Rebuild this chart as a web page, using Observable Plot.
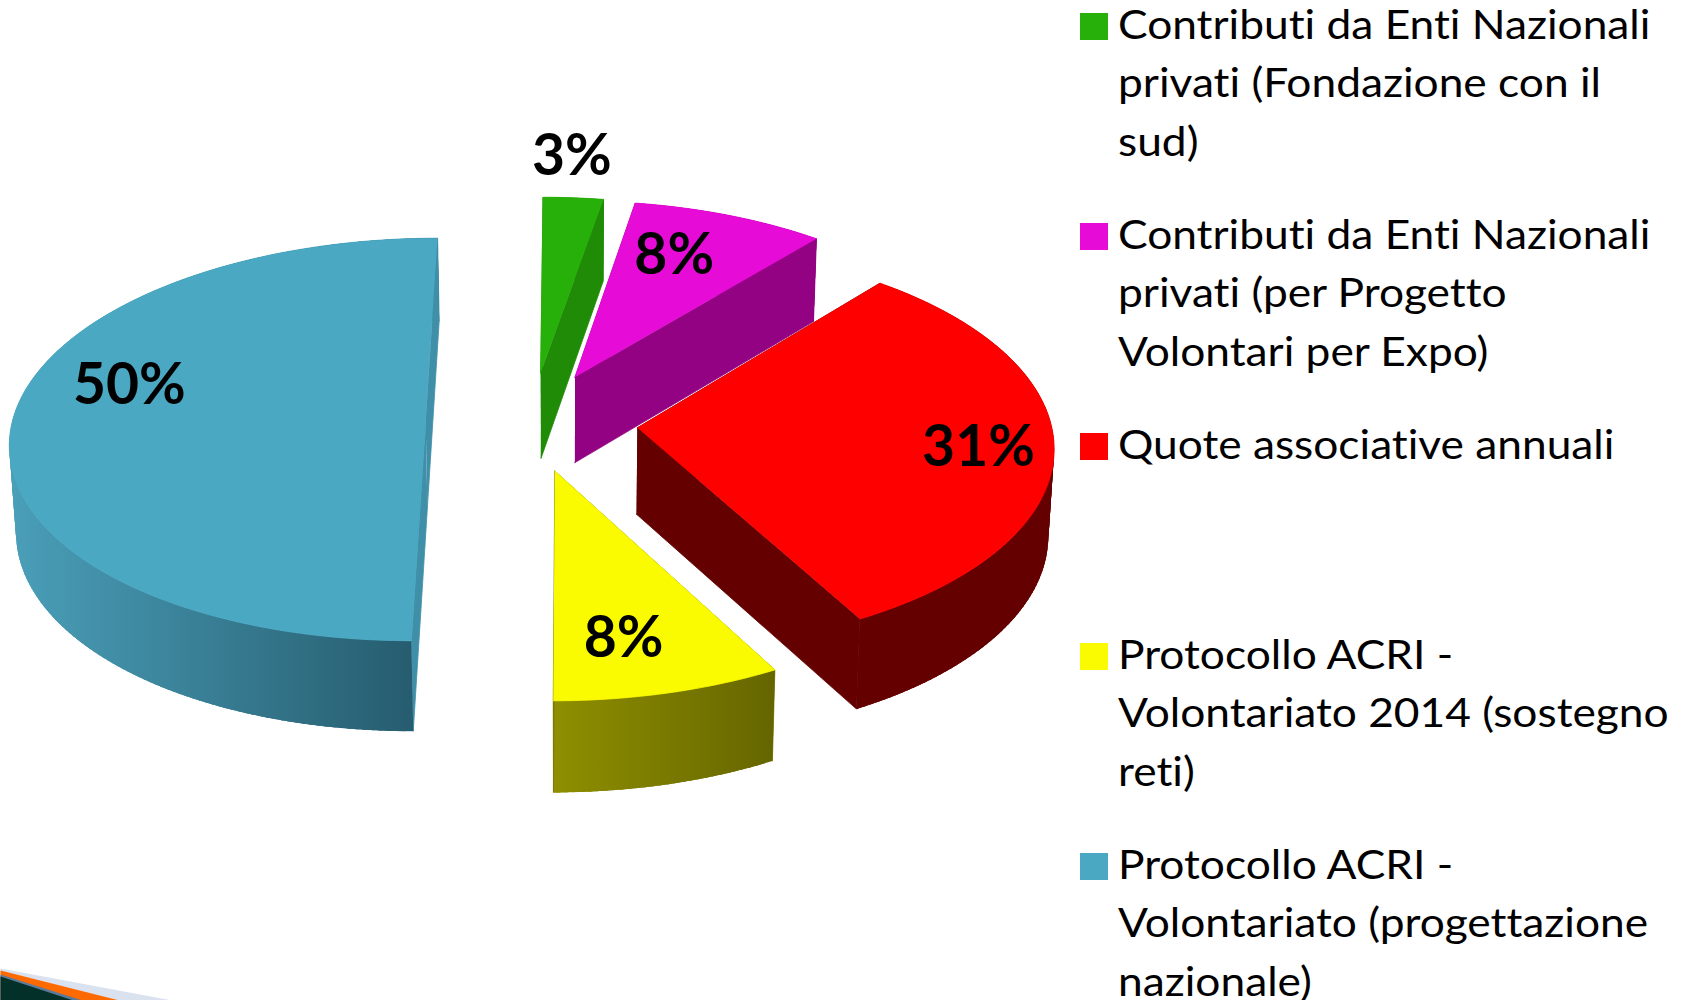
<!DOCTYPE html>
<html><head><meta charset="utf-8">
<script src="https://cdn.jsdelivr.net/npm/d3@7"></script>
<script src="https://cdn.jsdelivr.net/npm/@observablehq/plot@0.6"></script>
<style>html,body{margin:0;padding:0;background:#fff;overflow:hidden}svg{display:block}text{font-variant-ligatures:none}</style>
</head><body>
<script>
// Data
const categories = [
  "Contributi da Enti Nazionali privati (Fondazione con il sud)",
  "Contributi da Enti Nazionali privati (per Progetto Volontari per Expo)",
  "Quote associative annuali",
  "Protocollo ACRI - Volontariato 2014 (sostegno reti)",
  "Protocollo ACRI - Volontariato (progettazione nazionale)"
];
const shares = [2.6, 8.4, 31, 8, 50];
const legendLines = [
  ["Contributi da Enti Nazionali", "privati (Fondazione con il", "sud)"],
  ["Contributi da Enti Nazionali", "privati (per Progetto", "Volontari per Expo)"],
  ["Quote associative annuali"],
  ["Protocollo ACRI -", "Volontariato 2014 (sostegno", "reti)"],
  ["Protocollo ACRI -", "Volontariato (progettazione", "nazionale)"]
];
const topColors = ["#28b00a", "#e60bd7", "#ff0000", "#fafa00", "#4aa8c3"];
const faceColors = ["#1f8b06", "#930283", "#640000", "#7a7a00", "#408fa8"];
const wallFills = ["#1f8b06", "#930283", "#640000", "url(#wallYellow)", "url(#wallBlue)"];

// Exploded 3D pie camera (units: reference at 1568 wide)
const S = 1692 / 1568;
const cx = 528, cy = 390, a = 383, b = 185, k = 0.09, H = 80, shrink = 0.988;
const explode = [[-28, 46], [4.5, 41.8], [62, -6], [-14, -45], [-134, 0]];
const labelAt = [[3.5, 1.27], [20.9, 0.73], [96.2, 0.82], [168.2, 0.755], [284.6, 0.76]];

function topPt(i, deg, r = 1) {
  const t = deg * Math.PI / 180, [ex, ey] = explode[i];
  const X = ex + a * r * Math.sin(t), Y = ey + b * r * Math.cos(t);
  const w = 1 + k * Y / b;
  return {x: cx + X / w, y: cy - Y / w, w};
}
function bottomPt(i, deg, r = 1) {
  const p = topPt(i, deg, r);
  return {x: cx + (p.x - cx) * shrink, y: p.y + H / Math.sqrt(p.w)};
}
const px = (p) => ({x: p.x * S, y: p.y * S});

let cum = 0;
const slices = shares.map((v, i) => {
  const start = cum / 100 * 360; cum += v;
  return {i, start, end: cum / 100 * 360, value: v};
});
const arcDegs = (s) => d3.range(s.start, s.end, 1).concat([s.end]);

const poly = (pts, fill) => Plot.line(pts.map(px), {x: "x", y: "y", fill, stroke: fill, strokeWidth: 0.8});
// The wall is a strip of overlapping quads, so its silhouette is filled and no seams show
function wallMark(s) {
  const {i} = s, d = arcDegs(s);
  const quads = d3.pairs(d).flatMap(([t0, t1], q) => {
    const t2 = Math.min(t1 + 1.5, s.end);
    return [topPt(i, t0), topPt(i, t2), bottomPt(i, t2), bottomPt(i, t0)].map((p) => ({...px(p), q}));
  });
  return Plot.line(quads, {x: "x", y: "y", z: "q", fill: wallFills[i], stroke: "none"});
}
function sliceMarks(s) {
  const {i} = s, d = arcDegs(s);
  const face = (deg) => poly([topPt(i, 0, 0), topPt(i, deg), bottomPt(i, deg), bottomPt(i, 0, 0)], faceColors[i]);
  return [
    face(s.start),
    wallMark(s),
    face(s.end),
    poly([topPt(i, 0, 0), ...d.map((t) => topPt(i, t))], topColors[i])
  ];
}

// Slide decoration, bottom-left corner
const cornerColors = ["#dbe2ef", "#ff6a00", "#5a7a9a", "#04302a"];
const cornerTop = [968, 970, 974, 976];
const cornerEnd = [172, 119, 82, 73];
const cornerMarks = cornerColors.map((c, j) =>
  Plot.line([{x: 0, y: cornerTop[j]}, {x: cornerEnd[j], y: 1000}, {x: 0, y: 1000}], {x: "x", y: "y", fill: c, stroke: "none"}));

const pctData = slices.map((s) => {
  const p = px(topPt(s.i, labelAt[s.i][0], labelAt[s.i][1]));
  return {...p, label: Math.round(s.value) + "%"};
});
const legendX = 1118, legendStretch = 1.08;
const legendText = legendLines.flatMap((ls, i) => ls.map((t, j) => ({t, x: legendX, y: 38.5 + 210 * i + 58.5 * j})));
const legendKeys = categories.map((c, i) => ({c, i, y: 13 + 210 * i}));

function defs() {
  const d = d3.create("svg:defs");
  const grad = (id, i, c0, c1) => {
    const xs = arcDegs(slices[i]).map((t) => px(topPt(i, t)).x);
    const g = d.append("linearGradient").attr("id", id).attr("gradientUnits", "userSpaceOnUse")
      .attr("x1", d3.min(xs)).attr("x2", d3.max(xs)).attr("y1", 0).attr("y2", 0);
    g.append("stop").attr("offset", 0).attr("stop-color", c0);
    g.append("stop").attr("offset", 1).attr("stop-color", c1);
  };
  grad("wallBlue", 4, "#4a9fb9", "#24586a");
  grad("wallYellow", 3, "#8f8f00", "#656500");
  return d.node();
}

const chart = Plot.plot({
  width: 1692, height: 1000,
  marginTop: 0, marginRight: 0, marginBottom: 0, marginLeft: 0,
  x: {axis: null, domain: [0, 1692], range: [0, 1692]},
  y: {axis: null, domain: [0, 1000], range: [0, 1000]},
  style: {background: "#fff"},
  marks: [
    defs,
    ...cornerMarks,
    ...slices.flatMap(sliceMarks),
    Plot.text(pctData, {x: "x", y: "y", dy: 2, text: "label", fontFamily: "Lato", fontWeight: 700, fontSize: 57, fill: "#000", textAnchor: "middle", lineAnchor: "middle"}),
    Plot.rect(legendKeys, {x1: () => 1080, x2: () => 1108, y1: "y", y2: (d) => d.y + 27, fill: (d) => topColors[d.i]}),
    Plot.text(legendText, {x: "x", y: "y", text: "t", fontFamily: "Lato", fontSize: 41, fill: "#000", textAnchor: "start", lineAnchor: "bottom"})
  ]
});
document.body.appendChild(chart);
// Reference legend type is slightly wider than Lato
const textGroups = chart.querySelectorAll('g[aria-label="text"]');
textGroups[textGroups.length - 1].setAttribute("transform", `translate(${legendX},0) scale(${legendStretch},1) translate(${-legendX},0)`);
</script>
</body></html>
